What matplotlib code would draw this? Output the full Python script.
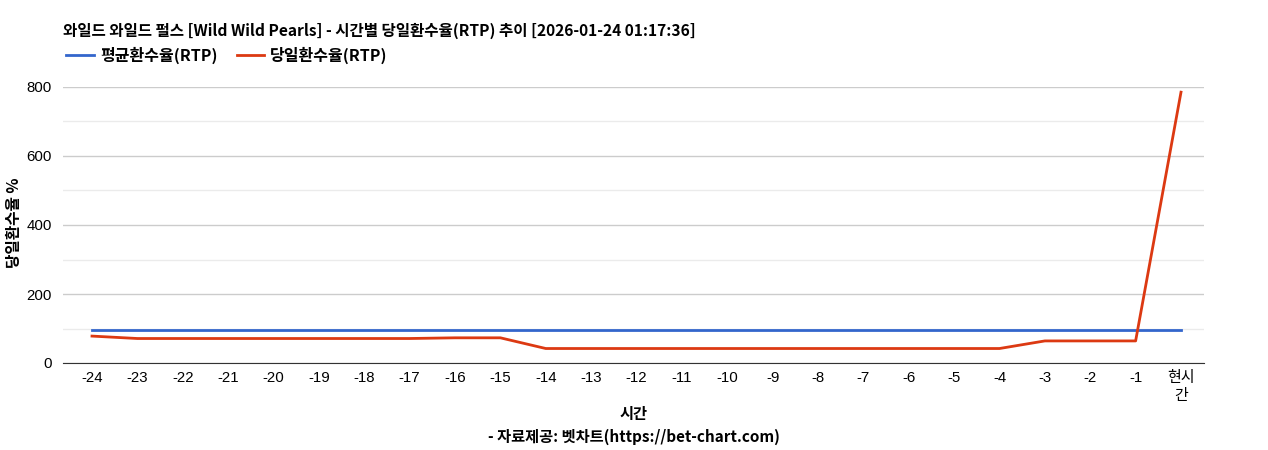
import matplotlib
matplotlib.use("Agg")
import matplotlib.pyplot as plt
from matplotlib.lines import Line2D
from matplotlib.ticker import MultipleLocator

plt.rcParams["font.family"] = ["Noto Sans CJK KR", "DejaVu Sans"]

title = "와일드 와일드 펄스 [Wild Wild Pearls] - 시간별 당일환수율(RTP) 추이 [2026-01-24 01:17:36]"
hours = [str(h) for h in range(-24, 0)] + ["현시\n간"]
avg_rtp = [96] * 25
daily_rtp = [78, 71, 71, 71, 71, 71, 71, 71, 73, 73,
             42, 42, 42, 42, 42, 42, 42, 42, 42, 42,
             42, 64, 64, 64, 785]

fig = plt.figure(figsize=(12.68, 4.5), dpi=100)
ax = fig.add_axes([63 / 1268, 1 - 363 / 450, (1204 - 63) / 1268, 276 / 450])

x = list(range(len(hours)))
ax.plot(x, avg_rtp, color="#3366cc", lw=2, zorder=3)
ax.plot(x, daily_rtp, color="#dc3912", lw=2, zorder=4)

step = (1181 - 92) / 24
ax.set_xlim(-(92 - 63) / step, 24 + (1204 - 1181) / step)
ax.set_ylim(0, 800)
ax.yaxis.set_major_locator(MultipleLocator(200))
ax.yaxis.set_minor_locator(MultipleLocator(100))
ax.grid(axis="y", which="major", color="#cccccc", lw=1)
ax.grid(axis="y", which="minor", color="#ebebeb", lw=1)
ax.set_axisbelow(True)

ax.set_xticks(x)
ax.set_xticklabels(hours, fontsize=10.8, family=["Liberation Sans", "Noto Sans CJK KR"],
                   linespacing=1.3)
ax.tick_params(axis="both", which="both", length=0)
ax.tick_params(axis="y", labelsize=10.8, pad=8)
ax.tick_params(axis="x", pad=6)
for lbl in ax.get_yticklabels():
    lbl.set_family(["Liberation Sans"])
for s in ["top", "right", "left"]:
    ax.spines[s].set_visible(False)
ax.spines["bottom"].set_color("#333333")

fig.text(14 / 1268, 1 - 223 / 450, "당일환수율 %", fontsize=11.3, fontweight="bold",
         rotation=90, ha="center", va="center")

fig.text(63 / 1268, 1 - 31 / 450, title, fontsize=11.2, fontweight="bold", va="center")
fig.text(0.5, 1 - 414 / 450, "시간", fontsize=11, fontweight="bold", ha="center", va="center")
fig.text(0.5, 1 - 437 / 450, "- 자료제공: 벳차트(https://bet-chart.com)", fontsize=11,
         fontweight="bold", ha="center", va="center")

handles = [Line2D([], [], color="#3366cc", lw=2), Line2D([], [], color="#dc3912", lw=2)]
fig.legend(handles, ["평균환수율(RTP)", "당일환수율(RTP)"], loc="center left",
           bbox_to_anchor=(52 / 1268, 1 - 55 / 450), ncol=2, frameon=False,
           prop={"weight": "bold", "size": 11.5}, handlelength=1.7, handletextpad=0.4,
           columnspacing=1.2)

fig.savefig("out.png", dpi=100)
